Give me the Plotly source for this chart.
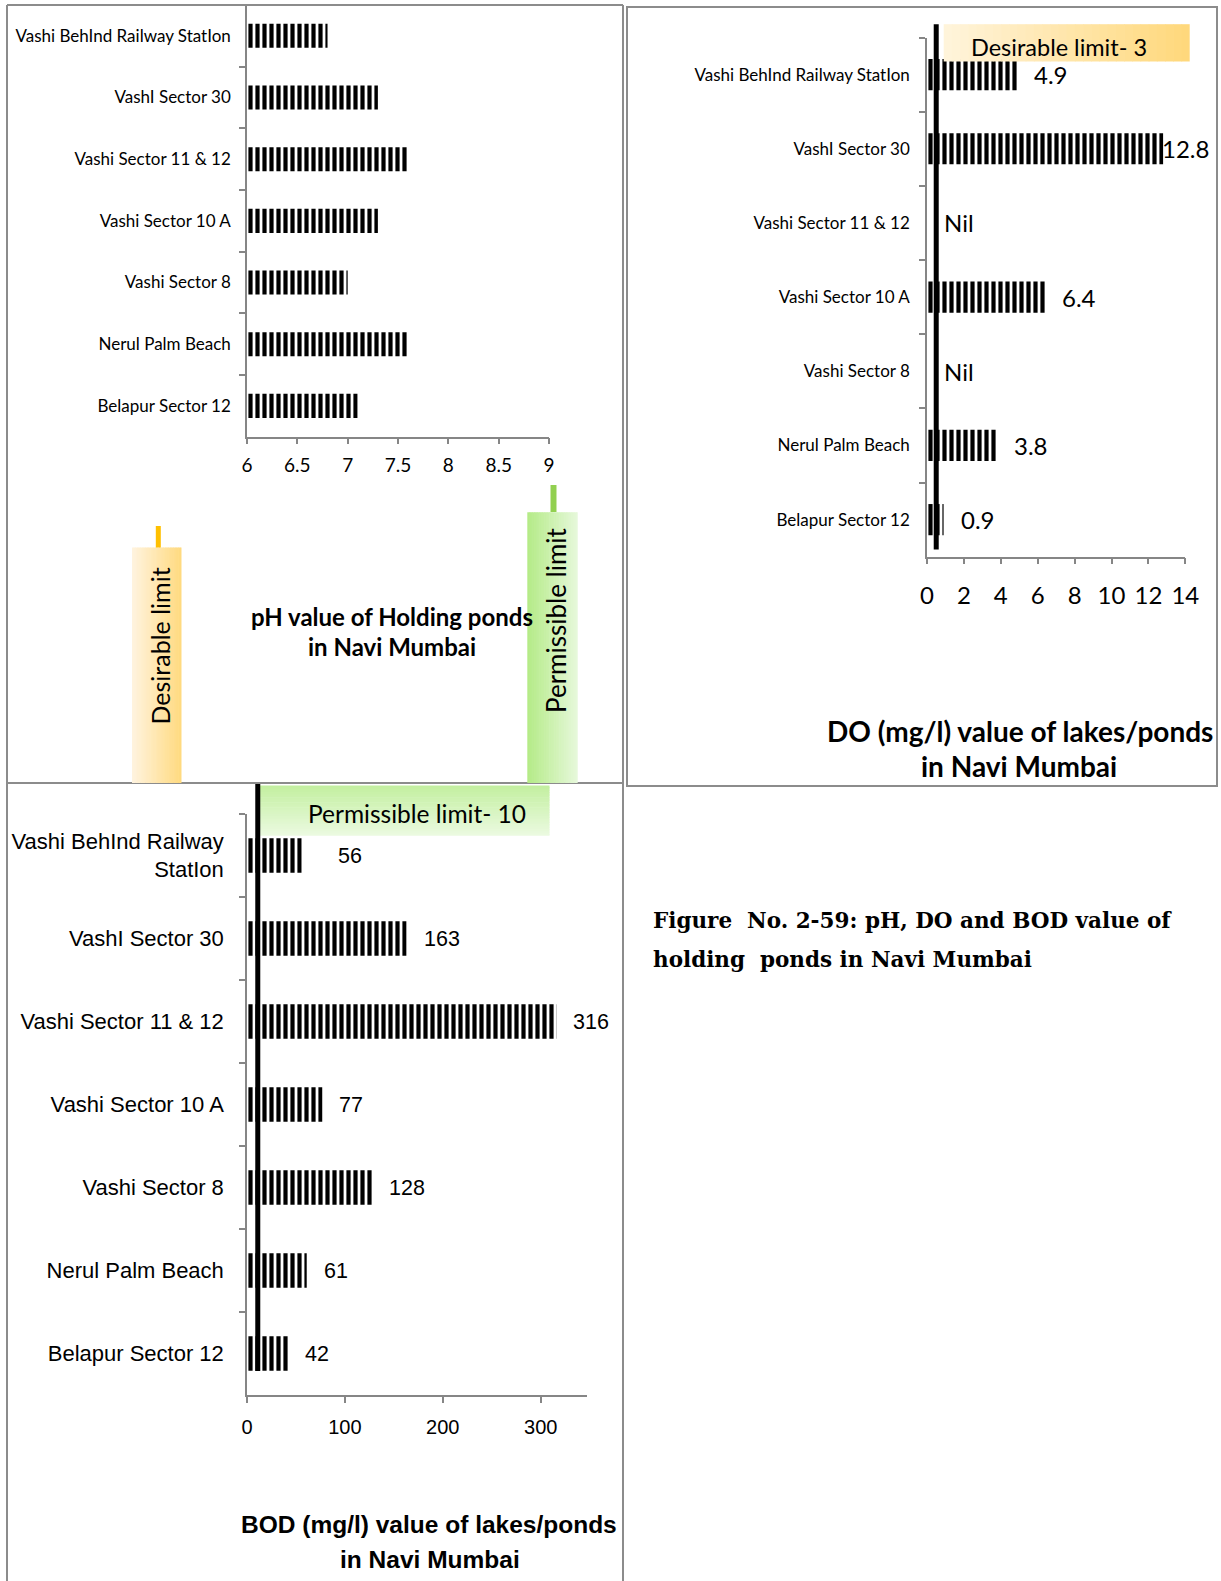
import plotly.graph_objects as go

# ---------------- data ----------------
ph_sites = ["Vashi BehInd Railway StatIon", "VashI Sector 30", "Vashi Sector 11 & 12",
            "Vashi Sector 10 A", "Vashi Sector 8", "Nerul Palm Beach", "Belapur Sector 12"]
ph_values = [6.8, 7.3, 7.6, 7.3, 7.0, 7.6, 7.1]

do_sites = ph_sites
do_values = [4.9, 12.8, None, 6.4, None, 3.8, 0.9]   # None -> "Nil"

bod_sites = ["Vashi BehInd Railway<br>StatIon", "VashI Sector 30", "Vashi Sector 11 & 12",
             "Vashi Sector 10 A", "Vashi Sector 8", "Nerul Palm Beach", "Belapur Sector 12"]
bod_values = [56, 163, 316, 77, 128, 61, 42]

ph_ticks = [6, 6.5, 7, 7.5, 8, 8.5, 9]
do_ticks = [0, 2, 4, 6, 8, 10, 12, 14]
bod_ticks = [0, 100, 200, 300]

# ---------------- helpers ----------------
W, H = 1221, 1581
def px(x): return x / W
def py(y): return 1 - y / H

LATO = "Lato, 'Open Sans', sans-serif"
NARROW = "'Liberation Sans Narrow', 'Arial Narrow', 'Liberation Sans', Arial, sans-serif"
SERIF = "'DejaVu Serif', 'Liberation Serif', serif"
AX = "#868686"
BORDER = "#8C8C8C"

pattern = dict(shape="|", size=7, solidity=0.6, fgcolor="black", bgcolor="white", fgopacity=1)

fig = go.Figure()

fig.add_trace(go.Bar(y=ph_sites, x=ph_values, orientation="h", width=0.39,
                     marker=dict(color="black", line=dict(width=0), pattern=pattern),
                     xaxis="x", yaxis="y", showlegend=False, hoverinfo="x+y"))
fig.add_trace(go.Bar(y=do_sites, x=[v if v is not None else 0 for v in do_values],
                     orientation="h", width=0.42,
                     marker=dict(color="black", line=dict(width=0), pattern=pattern),
                     xaxis="x2", yaxis="y2", showlegend=False, hoverinfo="x+y"))
fig.add_trace(go.Bar(y=bod_sites, x=bod_values, orientation="h", width=0.415,
                     marker=dict(color="black", line=dict(width=0), pattern=pattern),
                     xaxis="x3", yaxis="y3", showlegend=False, hoverinfo="x+y"))

common_x = dict(showgrid=False, zeroline=False, showline=True, linecolor=AX, linewidth=1.5,
                ticks="outside", ticklen=6, tickcolor=AX, tickwidth=1.5, fixedrange=True,
                automargin=False)
common_y = dict(type="category", showgrid=False, zeroline=False, showline=True, linecolor=AX,
                linewidth=1.5, ticks="outside", ticklen=6, tickcolor=AX, tickwidth=1.5,
                tickson="boundaries", range=[6.5, -0.5], fixedrange=True, automargin=False)

fig.update_layout(
    width=W, height=H, autosize=False,
    margin=dict(l=0, r=0, t=0, b=0, pad=0),
    paper_bgcolor="white", plot_bgcolor="white",
    bargap=0.6,
    xaxis=dict(common_x, domain=[px(247), px(549.0)], anchor="y", range=[6, 9],
               tickvals=ph_ticks, ticktext=[f"{t:g}" for t in ph_ticks],
               tickfont=dict(family=LATO, size=19, color="black"), ticklabelstandoff=5),
    yaxis=dict(common_y, domain=[py(436.7), py(5.0)], anchor="x",
               tickfont=dict(family=LATO, size=17, color="black"), ticklabelstandoff=11),
    xaxis2=dict(common_x, domain=[px(927), px(1185.3)], anchor="y2", range=[0, 14],
                tickvals=do_ticks, tickfont=dict(family=LATO, size=24, color="black"),
                ticklabelstandoff=11),
    yaxis2=dict(common_y, domain=[py(556.7), py(37.5)], anchor="x2",
                tickfont=dict(family=LATO, size=17, color="black"), ticklabelstandoff=12),
    xaxis3=dict(common_x, domain=[px(247), px(586.7)], anchor="y3", range=[0, 347],
                tickvals=bod_ticks, tickfont=dict(family=NARROW, size=20, color="black"),
                ticklabelstandoff=7),
    yaxis3=dict(common_y, domain=[py(1395.0), py(814.0)], anchor="x3",
                tickfont=dict(family=NARROW, size=22, color="black"), ticklabelstandoff=17),
)

shapes = []
annotations = []

def line(x0, y0, x1, y1, color, width, layer="above"):
    shapes.append(dict(type="line", xref="paper", yref="paper", x0=px(x0), y0=py(y0),
                       x1=px(x1), y1=py(y1), line=dict(color=color, width=width), layer=layer))

def hexrgb(h):
    h = h.lstrip("#")
    return tuple(int(h[i:i + 2], 16) for i in (0, 2, 4))

def grad_box(x0, y0, x1, y1, c0, c1, horizontal=True, n=30):
    a, b = hexrgb(c0), hexrgb(c1)
    for i in range(n):
        t = i / (n - 1)
        c = "rgb(%d,%d,%d)" % tuple(round(a[k] + (b[k] - a[k]) * t) for k in range(3))
        if horizontal:
            xa = x0 + (x1 - x0) * i / n
            xb = min(x1, x0 + (x1 - x0) * (i + 1) / n + 0.6)
            shapes.append(dict(type="rect", xref="paper", yref="paper", x0=px(xa), x1=px(xb),
                               y0=py(y1), y1=py(y0), fillcolor=c, line=dict(width=0), layer="above"))
        else:
            ya = y0 + (y1 - y0) * i / n
            yb = min(y1, y0 + (y1 - y0) * (i + 1) / n + 0.6)
            shapes.append(dict(type="rect", xref="paper", yref="paper", x0=px(x0), x1=px(x1),
                               y0=py(yb), y1=py(ya), fillcolor=c, line=dict(width=0), layer="above"))

def text(x, y, s, size, family=LATO, bold=False, xanchor="center", angle=0, color="black"):
    if bold:
        s = "<b>" + s + "</b>"
    annotations.append(dict(xref="paper", yref="paper", x=px(x), y=py(y), text=s,
                            showarrow=False, xanchor=xanchor, yanchor="middle", textangle=angle,
                            font=dict(family=family, size=size, color=color)))

# ---- panel borders ----
line(7, 5, 7, 1581, BORDER, 2)
line(7, 5, 623, 5, BORDER, 2)
line(623, 5, 623, 1581, BORDER, 2)
line(7, 783, 623, 783, BORDER, 2)
shapes.append(dict(type="rect", xref="paper", yref="paper", x0=px(627), x1=px(1217),
                   y0=py(786), y1=py(7), line=dict(color=BORDER, width=2), layer="above"))

# ---- pH panel decorations ----
text(392, 616, "pH value of Holding ponds", 24, bold=True)
text(392, 647, "in Navi Mumbai", 24, bold=True)
line(158.3, 526, 158.3, 548, "#FFC000", 5)
grad_box(132, 547.5, 181.5, 783, "#FFF3DE", "#FFDA80", horizontal=True)
line(553.5, 485, 553.5, 512, "#92D050", 6)
grad_box(527.3, 512.2, 577.7, 783, "#B5EB88", "#E6F8DA", horizontal=True)
text(159.5, 646, "Desirable limit", 25, angle=-90)
text(556, 620, "Permissible limit", 26, angle=-90)

# ---- DO panel decorations ----
grad_box(943.7, 24.2, 1189.7, 61.5, "#FFF4DA", "#FFD87C", horizontal=True)
text(1059, 46.5, "Desirable limit- 3", 23.5)
shapes.append(dict(type="line", xref="x2", yref="paper", x0=0.5, x1=0.5, y0=py(549.5), y1=py(24.2),
                   line=dict(color="black", width=5), layer="above"))
for s, v in zip(do_sites, do_values):
    annotations.append(dict(xref="x2", yref="y2", x=(v if v is not None else 0), y=s,
                            text=(f"{v:g}" if v is not None else "Nil"), showarrow=False,
                            xanchor="left", yanchor="middle",
                            xshift=(15 if (v is None or v < 12) else -3),
                            font=dict(family=LATO, size=24, color="black")))
text(1020, 731, "DO (mg/l) value of lakes/ponds", 28, bold=True)
text(1019, 766, "in Navi Mumbai", 28, bold=True)

# ---- BOD panel decorations ----
grad_box(258, 785.4, 549.5, 835.8, "#C3EFA0", "#EBFAE0", horizontal=False)
text(417, 813.7, "Permissible limit- 10", 24.5)
shapes.append(dict(type="line", xref="x3", yref="paper", x0=11, x1=11, y0=py(1371), y1=py(784),
                   line=dict(color="black", width=5), layer="above"))
for s, v in zip(bod_sites, bod_values):
    annotations.append(dict(xref="x3", yref="y3", x=v, y=s, text=f"{v}", showarrow=False,
                            xanchor="left", yanchor="middle", xshift=(34 if v == 56 else 15),
                            font=dict(family=NARROW, size=21.5, color="black")))
text(429, 1524.5, "BOD (mg/l) value of lakes/ponds", 24.5, family=NARROW, bold=True)
text(429.5, 1559, "in Navi Mumbai", 24.5, family=NARROW, bold=True)

# ---- caption ----
text(651, 920, "Figure&nbsp; No. 2-59: pH, DO and BOD value of", 21.5, family=SERIF, bold=True, xanchor="left")
text(651, 959, "holding&nbsp; ponds in Navi Mumbai", 21.5, family=SERIF, bold=True, xanchor="left")

fig.update_layout(shapes=shapes, annotations=annotations)

fig.write_html("out.html", config=dict(displayModeBar=False),
               post_script="document.body.style.margin='0';document.body.style.overflow='hidden';")
